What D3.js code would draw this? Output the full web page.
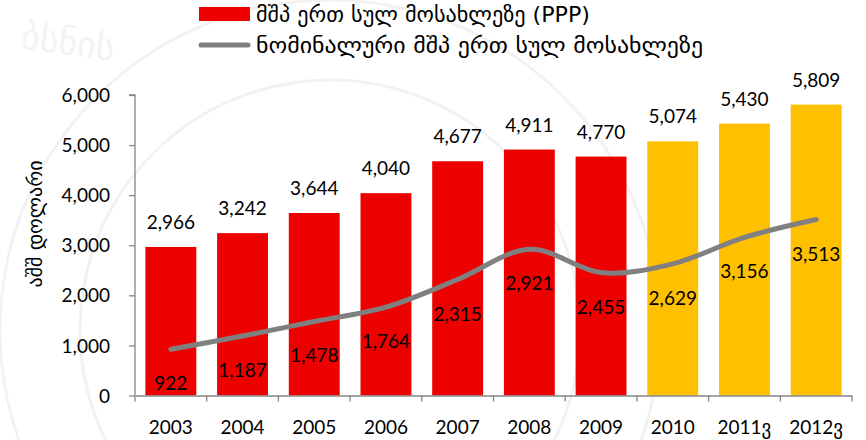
<!DOCTYPE html>
<html>
<head>
<meta charset="utf-8">
<script src="https://cdn.jsdelivr.net/npm/d3@7"></script>
<style>
  body { margin: 0; background: #fff; }
  text { font-family: Lato, 'DejaVu Sans', sans-serif; fill: #000; }
  .geo { font-family: 'DejaVu Sans', sans-serif; }
</style>
</head>
<body>
<div id="chart"></div>
<script>
// Data
const years = ['2003', '2004', '2005', '2006', '2007', '2008', '2009', '2010', '2011ვ', '2012ვ']
const pppValues = [2966, 3242, 3644, 4040, 4677, 4911, 4770, 5074, 5430, 5809]
const nominalValues = [922, 1187, 1478, 1764, 2315, 2921, 2455, 2629, 3156, 3513]
const forecast = [false, false, false, false, false, false, false, true, true, true]
const yTicks = [0, 1000, 2000, 3000, 4000, 5000, 6000]

const width = 866
const height = 440
const plot = { left: 135, right: 852, top: 95, bottom: 395.5 }

const svg = d3.select('#chart')
  .append('svg')
  .attr('width', width)
  .attr('height', height)

// faint watermark (seal)
const wm = svg.append('g').attr('fill', 'none').attr('stroke', '#f2f2f2').attr('stroke-width', 3)
wm.append('circle').attr('cx', 330).attr('cy', 330).attr('r', 330)
wm.append('circle').attr('cx', 330).attr('cy', 330).attr('r', 250)
svg.append('text')
  .attr('x', 20).attr('y', 48)
  .attr('class', 'geo')
  .attr('font-size', 36)
  .attr('transform', 'rotate(8, 20, 48)')
  .style('fill', '#f3f3f3')
  .text('ბსნის')

const x = d3.scaleBand()
  .domain(years)
  .range([plot.left, plot.right])
  .paddingInner(0.29)
  .paddingOuter(0.145)

const xPoint = d => x(d) + x.bandwidth() / 2

const y = d3.scaleLinear()
  .domain([0, 6000])
  .range([plot.bottom, plot.top])

// bars
svg.selectAll('rect.bar')
  .data(pppValues)
  .enter()
  .append('rect')
  .attr('class', 'bar')
  .attr('x', (d, i) => x(years[i]))
  .attr('y', d => y(d))
  .attr('width', x.bandwidth())
  .attr('height', d => y(0) - y(d))
  .attr('fill', (d, i) => forecast[i] ? '#FFC000' : '#EC0000')

// bar labels
svg.selectAll('text.barlabel')
  .data(pppValues)
  .enter()
  .append('text')
  .attr('class', 'barlabel')
  .attr('x', (d, i) => xPoint(years[i]))
  .attr('y', d => y(d) - 18)
  .attr('text-anchor', 'middle')
  .attr('font-size', 19)
  .text(d => d3.format(',')(d))

// axes
const xAxis = d3.axisBottom(x).tickSize(0).tickFormat(d => d)
const gx = svg.append('g')
  .attr('transform', `translate(0, ${plot.bottom})`)
  .call(xAxis)
gx.select('.domain').attr('stroke', '#868686').attr('stroke-width', 1.3)
gx.selectAll('text').attr('font-size', 19).attr('y', 38).attr('dy', 0)
// category boundary ticks
gx.selectAll('line.sep')
  .data(years.concat(['end']))
  .enter()
  .append('line')
  .attr('class', 'sep')
  .attr('x1', (d, i) => i < years.length ? x(d) - x.step() * x.paddingOuter() : plot.right)
  .attr('x2', (d, i) => i < years.length ? x(d) - x.step() * x.paddingOuter() : plot.right)
  .attr('y1', 0)
  .attr('y2', 6)
  .attr('stroke', '#868686')
  .attr('stroke-width', 1.3)

const yAxis = d3.axisLeft(y).tickValues(yTicks).tickSize(6).tickPadding(19).tickFormat(d3.format(','))
const gy = svg.append('g')
  .attr('transform', `translate(${plot.left}, 0)`)
  .call(yAxis)
gy.select('.domain').attr('stroke', '#868686').attr('stroke-width', 1.3).attr('d', `M-6,${plot.top}H0V${plot.bottom}`)
gy.selectAll('.tick line').attr('stroke', '#868686').attr('stroke-width', 1.3)
gy.selectAll('text').attr('font-size', 19).attr('dy', '0.35em')

// y axis title
svg.append('text')
  .attr('class', 'geo')
  .attr('transform', 'translate(42, 224) rotate(-90)')
  .attr('text-anchor', 'middle')
  .attr('font-size', 19)
  .attr('textLength', 127)
  .attr('lengthAdjust', 'spacingAndGlyphs')
  .text('აშშ დოლარი')

// nominal line
const line = d3.line()
  .x((d, i) => xPoint(years[i]))
  .y(d => y(d))
  .curve(d3.curveCatmullRom.alpha(0))

svg.append('path')
  .datum(nominalValues)
  .attr('d', line)
  .attr('fill', 'none')
  .attr('stroke', '#808080')
  .attr('stroke-width', 5)
  .attr('stroke-linecap', 'round')

svg.selectAll('text.linelabel')
  .data(nominalValues)
  .enter()
  .append('text')
  .attr('class', 'linelabel')
  .attr('x', (d, i) => xPoint(years[i]))
  .attr('y', d => y(d) + 41)
  .attr('text-anchor', 'middle')
  .attr('font-size', 19)
  .text(d => d3.format(',')(d))

// legend
const legend = svg.append('g')
legend.append('rect')
  .attr('x', 199).attr('y', 7).attr('width', 51).attr('height', 14)
  .attr('fill', '#EC0000')
legend.append('line')
  .attr('x1', 201).attr('x2', 248).attr('y1', 45).attr('y2', 45)
  .attr('stroke', '#808080').attr('stroke-width', 5).attr('stroke-linecap', 'round')
legend.append('text')
  .attr('class', 'geo')
  .attr('x', 256).attr('y', 15).attr('dy', '0.35em')
  .attr('font-size', 21)
  .attr('textLength', 334)
  .attr('lengthAdjust', 'spacingAndGlyphs')
  .text('მშპ ერთ სულ მოსახლეზე (PPP)')
legend.append('text')
  .attr('class', 'geo')
  .attr('x', 256).attr('y', 46).attr('dy', '0.35em')
  .attr('font-size', 21)
  .attr('textLength', 447)
  .attr('lengthAdjust', 'spacingAndGlyphs')
  .text('ნომინალური მშპ ერთ სულ მოსახლეზე')
</script>
</body>
</html>
